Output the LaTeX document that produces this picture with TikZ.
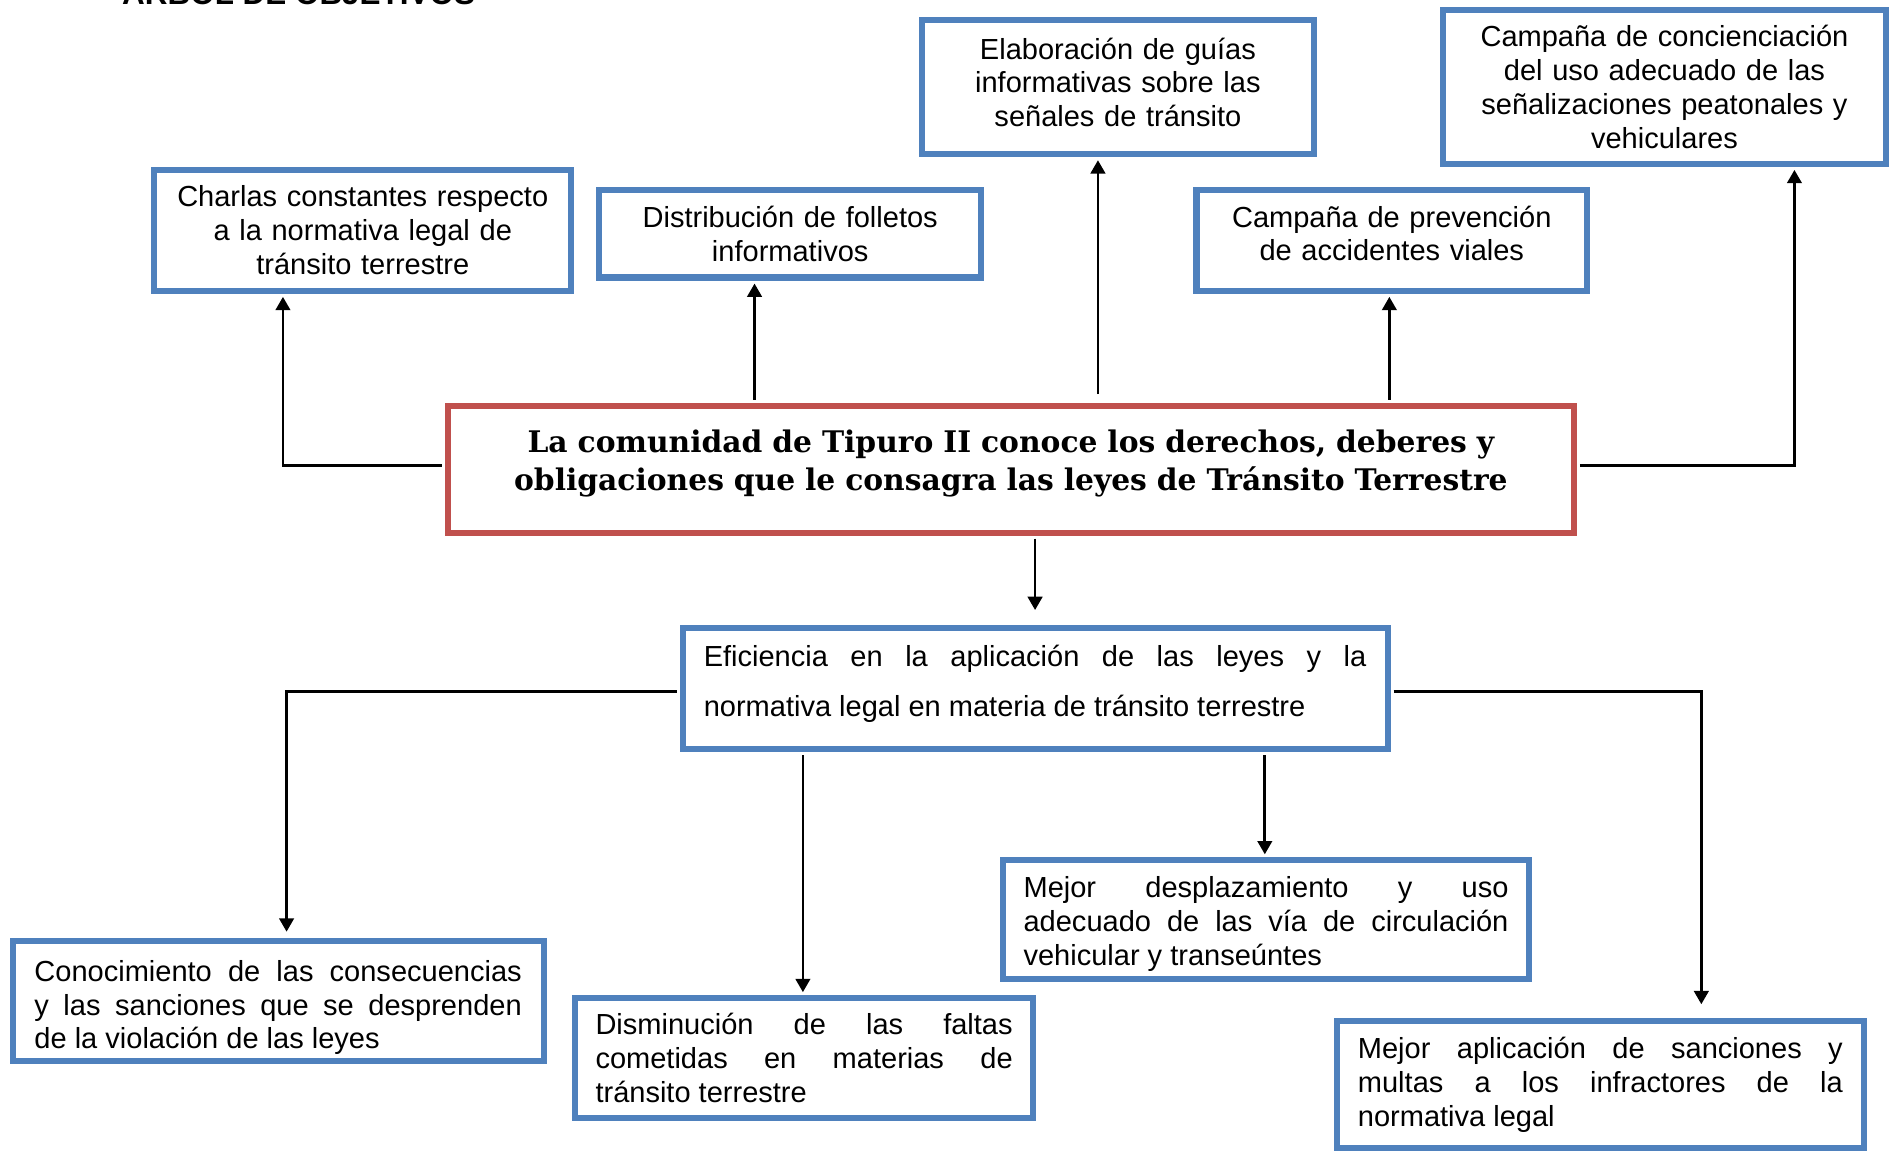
\documentclass[tikz,border=0pt]{standalone}
\usepackage{fontspec}
\setmainfont{Liberation Sans}
\newfontfamily\negritaserif{DejaVu Serif}
\usepackage{xcolor}
\definecolor{azulcaja}{RGB}{79,129,189}
\definecolor{rojocaja}{RGB}{192,80,77}
\usetikzlibrary{arrows.meta, calc, positioning}

\begin{document}
\begin{tikzpicture}[
            x=0.5pt, y=-0.5pt,
            line join=miter,
            caja/.style={shape=rectangle, draw=azulcaja, line width=2.5pt, inner sep=0pt, font=\fontsize{12}{14}\selectfont},
            cajacentro/.style={caja, align=center},
            cajajust/.style={caja, align=justify},
            cajaroja/.style={shape=rectangle, draw=rojocaja, line width=2.5pt, inner sep=0pt, align=center, font=\negritaserif\bfseries\fontsize{12.3}{15.5}\selectfont},
            flecha/.style={-{Triangle[length=5.5pt, width=6pt]}, line width=1.1pt}
            ]
            \useasboundingbox (0,0) rectangle (1568,954);

            % Titulo (cortado arriba)
            \node[anchor=base west, font=\bfseries\fontsize{13}{15}\selectfont] (titulo) at (94,4) {ÁRBOL DE OBJETIVOS};

            % Objetivo central
            \node[cajaroja, text width=462pt, text depth=22.8pt, minimum width=465.5pt, minimum height=52.5pt] (objetivo) at (836,388)
                {La comunidad de Tipuro II conoce los derechos, deberes y\\ obligaciones que le consagra las leyes de Tránsito Terrestre};

            % Fines (arriba)
            \node[cajacentro, text width=165pt, minimum width=172.5pt, minimum height=50pt] (charlas) at (300,190.5)
                {Charlas constantes respecto\\ a la normativa legal de\\ tránsito terrestre};
            \node[cajacentro, text width=150pt, minimum width=158pt, minimum height=36pt] (folletos) at (653.5,193.5)
                {Distribución de folletos\\ informativos};
            \node[cajacentro, text width=155pt, text depth=32pt, minimum width=162pt, minimum height=55.5pt] (guias) at (924.5,72)
                {Elaboración de guías\\ informativas sobre las\\ señales de tránsito};
            \node[cajacentro, text width=155pt, text depth=20pt, minimum width=161.5pt, minimum height=41.5pt] (prevencion) at (1151,199)
                {Campaña de prevención\\ de accidentes viales};
            \node[cajacentro, text width=176pt, minimum width=183pt, minimum height=63.5pt] (concienciacion) at (1376.5,72)
                {Campaña de concienciación\\ del uso adecuado de las\\ señalizaciones peatonales y\\ vehiculares};

            % Medio
            \node[cajajust, font=\fontsize{12}{20.5}\selectfont, text width=274pt, text depth=27pt, minimum width=291.5pt, minimum height=50pt] (eficiencia) at (856,569.5)
                {Eficiencia en la aplicación de las leyes y la\linebreak normativa legal en materia de tránsito terrestre};

            % Causas (abajo)
            \node[cajajust, text width=201.5pt, text height=14pt, minimum width=219.5pt, minimum height=49.5pt] (conocimiento) at (230,828)
                {Conocimiento de las consecuencias\linebreak y las sanciones que se desprenden\linebreak de la violación de las leyes};
            \node[cajajust, text width=172.5pt, minimum width=189.5pt, minimum height=49.5pt] (disminucion) at (665,875)
                {Disminución de las faltas\linebreak cometidas en materias de\linebreak tránsito terrestre};
            \node[cajajust, text width=200.5pt, text height=12.6pt, minimum width=217.5pt, minimum height=49pt] (desplazamiento) at (1047,760.5)
                {Mejor desplazamiento y uso\linebreak adecuado de las vía de circulación\linebreak vehicular y transeúntes};
            \node[cajajust, text width=200.5pt, minimum width=218pt, minimum height=52.5pt] (sanciones) at (1323.5,897)
                {Mejor aplicación de sanciones y\linebreak multas a los infractores de la\linebreak normativa legal};

            % Flechas hacia arriba
            \draw[flecha] ($(objetivo.west)+(-2.5,-3)$) -| ($(charlas.south)+(-66,2.5)$);
            \foreach \destino/\dx/\dy in {folletos/-29.5/-2.5, guias/-16.5/-7, prevencion/-2/-2.5}
            {
                \draw[flecha] ($(\destino.south |- objetivo.north)+(\dx,\dy)$) -- ($(\destino.south)+(\dx,2.5)$);
            }
            \draw[flecha] ($(objetivo.east)+(2.5,-3)$) -| ($(concienciacion.south)+(107.5,2.5)$);
            \draw[flecha] ($(eficiencia.north |- objetivo.south)+(0,2.5)$) -- ($(eficiencia.north)+(0,-12.5)$);

            % Flechas hacia abajo
            \draw[flecha] ($(eficiencia.west)+(-2.5,2.5)$) -| ($(conocimiento.north)+(7,-5.5)$);
            \foreach \destino/\dx in {disminucion/-1, desplazamiento/-1}
            {
                \draw[flecha] ($(\destino.north |- eficiencia.south)+(\dx,2.5)$) -- ($(\destino.north)+(\dx,-2.5)$);
            }
            \draw[flecha] ($(eficiencia.east)+(2.5,2.5)$) -| ($(sanciones.north)+(83.5,-11.5)$);
\end{tikzpicture}
\end{document}
